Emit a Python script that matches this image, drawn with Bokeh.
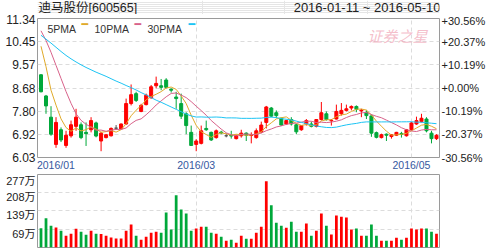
import numpy as np
from bokeh.plotting import figure
from bokeh.layouts import column
from bokeh.models import (ColumnDataSource, FixedTicker, LinearAxis, Range1d, Label,
                          PrintfTickFormatter)
from bokeh.embed import file_html
from bokeh.resources import INLINE

stock_title = "迪马股份[600565]"
date_range_text = "2016-01-11 ~ 2016-05-10"
watermark_text = "证券之星"

open_ = [9.19, 8.38, 7.57, 6.53, 7.09, 6.49, 6.86, 7.22, 7.28, 6.99,
         7.09, 7.35, 6.66, 6.79, 6.86, 7.15, 7.12, 7.31, 8.09, 8.47,
         7.79, 8.05, 8.31, 8.77, 8.77, 8.99, 8.64, 8.34, 8.09, 7.70,
         6.99, 6.53, 6.57, 7.14, 6.99, 6.79, 7.00, 6.86, 6.88, 6.75,
         6.86, 6.96, 6.87, 6.79, 7.01, 7.37, 7.92, 7.74, 7.53, 7.31,
         7.48, 7.28, 7.09, 7.31, 7.31, 7.22, 7.48, 7.70, 7.43, 7.50,
         7.70, 7.83, 7.92, 7.98, 7.81, 7.76, 7.62, 6.98, 6.79, 6.92,
         6.83, 6.88, 6.95, 6.86, 7.09, 7.31, 7.40, 7.50, 6.96, 6.75]
high = [9.21, 8.42, 7.99, 7.57, 7.18, 7.05, 7.44, 7.89, 7.37, 7.37,
        7.57, 7.40, 7.01, 6.93, 7.18, 7.27, 7.33, 8.28, 8.82, 8.54,
        8.08, 8.47, 8.80, 9.12, 9.03, 9.06, 8.67, 8.54, 8.47, 7.76,
        7.25, 6.73, 7.25, 7.44, 7.02, 7.10, 7.05, 6.95, 7.05, 6.90,
        7.09, 6.99, 6.99, 7.14, 7.40, 8.00, 7.96, 7.83, 7.55, 7.47,
        7.57, 7.31, 7.27, 7.50, 7.40, 7.50, 8.15, 7.79, 7.50, 8.05,
        8.11, 8.05, 8.02, 8.02, 7.89, 7.83, 7.68, 7.02, 6.94, 6.95,
        6.92, 7.01, 7.01, 7.12, 7.38, 7.59, 7.70, 7.57, 7.05, 6.92]
low = [8.52, 7.70, 6.86, 6.40, 6.62, 6.40, 6.79, 7.05, 6.73, 6.47,
       6.99, 6.80, 6.27, 6.76, 6.83, 7.08, 7.09, 7.28, 8.02, 8.15,
       7.76, 8.02, 8.28, 8.67, 8.60, 8.67, 8.51, 7.89, 7.50, 6.92,
       6.47, 6.27, 6.53, 7.05, 6.66, 6.75, 6.92, 6.80, 6.75, 6.72,
       6.79, 6.66, 6.57, 6.75, 6.96, 7.14, 7.57, 7.53, 7.24, 7.28,
       7.25, 6.92, 7.05, 7.25, 7.18, 7.18, 7.44, 7.44, 7.25, 7.48,
       7.63, 7.79, 7.83, 7.76, 7.57, 7.50, 6.82, 6.76, 6.76, 6.66,
       6.75, 6.85, 6.79, 6.83, 7.05, 7.28, 7.37, 6.99, 6.57, 6.70]
close = [8.54, 8.00, 6.92, 7.37, 6.70, 6.88, 7.28, 7.57, 6.79, 6.94,
         7.44, 6.85, 6.96, 6.90, 7.14, 7.15, 7.31, 8.09, 8.43, 8.21,
         8.02, 8.41, 8.73, 8.86, 8.71, 8.71, 8.60, 8.28, 7.61, 7.25,
         6.49, 6.66, 7.05, 7.09, 6.70, 7.05, 6.97, 6.86, 6.85, 6.86,
         6.96, 6.88, 6.89, 7.05, 7.27, 7.96, 7.61, 7.63, 7.27, 7.44,
         7.31, 7.01, 7.25, 7.44, 7.22, 7.48, 7.74, 7.48, 7.45, 7.79,
         7.83, 7.89, 7.98, 7.87, 7.84, 7.63, 6.96, 6.80, 6.90, 6.88,
         6.90, 6.99, 6.91, 7.09, 7.35, 7.44, 7.53, 7.05, 6.75, 6.88]
volume = [73, 111, 83, 76, 64, 45, 52, 71, 60, 48,
          64, 52, 51, 45, 38, 34, 34, 64, 87, 45,
          29, 41, 56, 60, 56, 133, 68, 198, 144, 129,
          64, 72, 79, 79, 56, 52, 41, 26, 29, 18,
          45, 33, 33, 56, 79, 251, 160, 94, 83, 75,
          98, 60, 60, 91, 45, 64, 129, 83, 49, 121,
          117, 114, 68, 72, 45, 45, 87, 45, 26, 26,
          26, 37, 29, 37, 72, 68, 72, 72, 60, 52]

ma5_head = [10.28, 9.50, 8.60, 8.03]
ma10_head = [10.87, 10.50, 10.05, 9.55, 9.05, 8.55, 8.10, 7.70, 7.45]
ma30_head = [10.70, 10.55, 10.40, 10.24, 10.08, 9.93, 9.80, 9.68, 9.57, 9.47,
             9.38, 9.29, 9.21, 9.13, 9.04, 8.95, 8.87, 8.78, 8.70, 8.61,
             8.51, 8.42, 8.32, 8.22, 8.14, 8.05, 7.96, 7.87, 7.78]

price_ticks = [6.03, 6.92, 7.80, 8.68, 9.57, 10.45, 11.34]
pct_labels = ["-30.56%", "-20.37%", "-10.19%", "+0.00%", "+10.19%", "+20.37%", "+30.56%"]
vol_ticks = [69, 139, 208, 277]
vol_labels = ["69万", "139万", "208万", "277万"]
month_idx = [0, 31, 74]
month_labels = ["2016/01", "2016/03", "2016/05"]
ma_names = ["5PMA", "10PMA", "30PMA"]
ma_colors = ["#e0aa2a", "#d8628a", "#1cc4f4"]

UP, DOWN, FLAT = "#ff0000", "#00a83a", "#555555"
FONT = "Liberation Sans, Noto Sans CJK SC"
GRID = "#dcdcdc"
OUT = "#9a9a9a"
W = 488
X_LO, X_HI = -0.7, 79.6
FRAME_W = 405
MAIN_FRAME_H = 139
VOL_FRAME_H = 73
HDR_H = 14

n = len(close)
idx = np.arange(n)
closes = np.array(close, dtype=float)


def sma(win, head):
    vals = list(head)
    for i in range(len(head), n):
        vals.append(closes[i - win + 1:i + 1].mean())
    return vals


ma_series = [sma(5, ma5_head), sma(10, ma10_head), sma(30, ma30_head)]

cols = [UP if c > o else (DOWN if c < o else FLAT) for o, c in zip(open_, close)]
vcols = [UP if c >= o else DOWN for o, c in zip(open_, close)]
src = ColumnDataSource(dict(x=idx, open=open_, high=high, low=low, close=close,
                           top=np.maximum(open_, close), bot=np.minimum(open_, close),
                           color=cols, vol=volume, vcolor=vcols))


def style_axis(ax, size, color, standoff):
    ax.axis_line_color = None
    ax.major_tick_line_color = None
    ax.minor_tick_line_color = None
    ax.major_tick_out = 0
    ax.major_tick_in = 0
    ax.minor_tick_out = 0
    ax.minor_tick_in = 0
    ax.major_label_text_font = FONT
    ax.major_label_text_font_size = size
    ax.major_label_text_color = color
    ax.major_label_standoff = standoff


# ---------- header strip (title and date range); its frame lines up with the plots' frames ----------
hdr = figure(width=W, height=HDR_H, x_range=Range1d(0, W), y_range=Range1d(0, HDR_H),
             output_backend="svg", toolbar_location=None, title=None,
             x_axis_location=None, y_axis_location=None, min_border=0,
             outline_line_color=None, background_fill_color="white", border_fill_color="white")
hdr.add_layout(Label(x=1, y=7, x_units="screen", y_units="screen", text=stock_title,
                     text_font=FONT, text_font_size="12.5px", text_color="#222222",
                     text_align="left", text_baseline="middle"))
hdr.add_layout(Label(x=FRAME_W - 2, y=7, x_units="screen", y_units="screen", text=date_range_text,
                     text_font="Liberation Sans", text_font_size="13px", text_color="#222222",
                     text_align="right", text_baseline="middle"))

# ---------- price panel ----------
p = figure(width=W, height=4 + MAIN_FRAME_H + 17, x_range=Range1d(X_LO, X_HI),
           y_range=Range1d(price_ticks[0], price_ticks[-1]),
           output_backend="svg", toolbar_location=None, title=None,
           min_border_left=37, min_border_right=46, min_border_top=4, min_border_bottom=17,
           outline_line_color=OUT, background_fill_color="white", border_fill_color="white")

px_per_unit = FRAME_W / (X_HI - X_LO)
first_label_pos = X_LO + 18.5 / px_per_unit   # "2016/01" is pinned to the frame's left edge
x_label_pos = [first_label_pos] + month_idx[1:]
p.xaxis.ticker = FixedTicker(ticks=x_label_pos)
p.xaxis.major_label_overrides = {t: l for t, l in zip(x_label_pos, month_labels)}
p.xgrid.ticker = FixedTicker(ticks=month_idx[1:])
p.yaxis.ticker = FixedTicker(ticks=price_ticks)
p.yaxis.formatter = PrintfTickFormatter(format="%.2f")

ra = LinearAxis(ticker=FixedTicker(ticks=price_ticks),
                major_label_overrides={t: l for t, l in zip(price_ticks, pct_labels)})
p.add_layout(ra, "right")

style_axis(p.yaxis[0], "12px", "#222222", 2)
style_axis(ra, "11px", "#222222", 2)
style_axis(p.xaxis[0], "10.5px", "#3558a0", 1)

p.grid.grid_line_color = GRID
p.grid.grid_line_dash = "4 3"

p.segment(x0="x", y0="low", x1="x", y1="high", color="color", line_width=1, source=src)
p.vbar(x="x", width=0.6, top="top", bottom="bot", fill_color="color", line_color="color", source=src)

for vals, c in zip(ma_series, ma_colors):
    p.line(idx, vals, line_color=c, line_width=1)

# watermark (screen units are relative to the frame's bottom-left corner)
p.add_layout(Label(x=360, y=122, x_units="screen", y_units="screen", text=watermark_text,
                   text_font="Noto Sans CJK SC", text_font_size="15px", text_color="#f2aebd",
                   text_font_style="italic", text_alpha=0.8,
                   text_baseline="middle", text_align="center"))

# legend: name followed by a short colour dash
leg_text_x = [10, 57, 110]
leg_dash_x = [44, 97, 151]
for name, c, tx, dx in zip(ma_names, ma_colors, leg_text_x, leg_dash_x):
    p.add_layout(Label(x=tx, y=129, x_units="screen", y_units="screen", text=name,
                       text_font="Liberation Sans", text_font_size="10.5px", text_color="#333333",
                       text_baseline="middle", text_align="left"))
    p.add_layout(Label(x=dx, y=133, x_units="screen", y_units="screen", text="\u2501",
                       text_font="DejaVu Sans", text_font_size="11px", text_color=c,
                       text_baseline="middle", text_align="left"))

# ---------- volume panel ----------
vol_top = vol_ticks[-1]
pv = figure(width=W, height=VOL_FRAME_H + 3, x_range=p.x_range, y_range=Range1d(0, vol_top),
            output_backend="svg", toolbar_location=None, title=None,
            min_border_left=37, min_border_right=46, min_border_top=0, min_border_bottom=3,
            outline_line_color=OUT, background_fill_color="white", border_fill_color="white")
pv.xaxis.visible = False
pv.yaxis.visible = False
pv.xgrid.ticker = FixedTicker(ticks=month_idx[1:])
pv.ygrid.ticker = FixedTicker(ticks=vol_ticks)
vol_shift = 4.5 * vol_top / VOL_FRAME_H   # labels sit a few pixels below their grid lines
pv.extra_y_ranges = {"lbl": Range1d(vol_shift, vol_top + vol_shift)}
va = LinearAxis(y_range_name="lbl", ticker=FixedTicker(ticks=vol_ticks),
                major_label_overrides={t: l for t, l in zip(vol_ticks, vol_labels)})
pv.add_layout(va, "left")
style_axis(va, "11px", "#222222", 2)
pv.grid.grid_line_color = GRID
pv.grid.grid_line_dash = "4 3"
pv.vbar(x="x", width=0.55, top="vol", bottom=0, fill_color="vcolor", line_color=None, source=src)

layout = column(hdr, p, pv, spacing=0)
open("out.html", "w").write(file_html(layout, INLINE))
